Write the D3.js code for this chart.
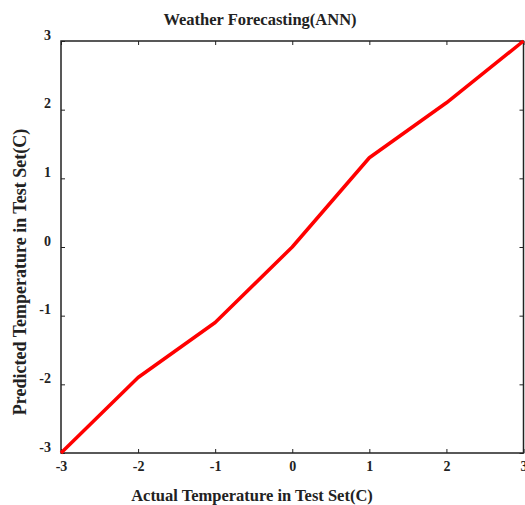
<!DOCTYPE html>
<html>
<head>
<meta charset="utf-8">
<script src="https://cdn.jsdelivr.net/npm/d3@7"></script>
<style>
  body { margin: 0; background: #fff; }
  text { font-family: "Liberation Serif", "Times New Roman", serif; font-weight: bold; fill: #222; }
</style>
</head>
<body>
<div id="chart"></div>
<script>
// actual vs predicted temperatures in the test set
var actual = [ -3, -2, -1, 0, 1, 2, 3 ];
var predicted = [ -3, -1.9, -1.1, 0, 1.3, 2.1, 3 ];
var ticks = [ -3, -2, -1, 0, 1, 2, 3 ];
var tickLabels = [ "-3", "-2", "-1", "0", "1", "2", "3" ];

var width = 525, height = 505;
var margin = { left: 61, right: 1.5, top: 41, bottom: 52 };

var svg = d3.select( "#chart" ).append( "svg" )
  .attr( "width", width )
  .attr( "height", height );

var x = d3.scaleLinear().domain( [ -3, 3 ] ).range( [ margin.left, width - margin.right ] );
var y = d3.scaleLinear().domain( [ -3, 3 ] ).range( [ height - margin.bottom, margin.top ] );

var tickLen = 4;
var label = function( d ) { return tickLabels[ ticks.indexOf( d ) ]; };

// ticks on all four sides, pointing inward
var axisBottom = d3.axisBottom( x ).tickValues( ticks ).tickSize( -tickLen ).tickPadding( 8 ).tickFormat( label );
var axisTop = d3.axisTop( x ).tickValues( ticks ).tickSize( -tickLen ).tickFormat( "" );
var axisLeft = d3.axisLeft( y ).tickValues( ticks ).tickSize( -tickLen ).tickPadding( 10 ).tickFormat( label );
var axisRight = d3.axisRight( y ).tickValues( ticks ).tickSize( -tickLen ).tickFormat( "" );

function styleAxis( g ) {
  g.select( ".domain" ).remove();
  g.selectAll( ".tick line" ).attr( "stroke", "#222" ).attr( "stroke-width", 1 );
  g.selectAll( "text" ).attr( "font-size", 14 ).attr( "fill", "#222" );
}

svg.append( "g" ).attr( "transform", "translate(0," + y( -3 ) + ")" ).call( axisBottom ).call( styleAxis );
svg.append( "g" ).attr( "transform", "translate(0," + y( 3 ) + ")" ).call( axisTop ).call( styleAxis );
var gl = svg.append( "g" ).attr( "transform", "translate(" + x( -3 ) + ",0)" ).call( axisLeft ).call( styleAxis );
gl.selectAll( ".tick text" ).attr( "dy", "-0.12em" );
svg.append( "g" ).attr( "transform", "translate(" + x( 3 ) + ",0)" ).call( axisRight ).call( styleAxis );

svg.append( "rect" )
  .attr( "x", x( -3 ) ).attr( "y", y( 3 ) )
  .attr( "width", x( 3 ) - x( -3 ) ).attr( "height", y( -3 ) - y( 3 ) )
  .attr( "fill", "none" ).attr( "stroke", "#222" ).attr( "stroke-width", 1.5 );

var points = actual.map( function( a, i ) { return [ a, predicted[ i ] ]; } );
var line = d3.line().x( function( d ) { return x( d[ 0 ] ); } ).y( function( d ) { return y( d[ 1 ] ); } );

svg.append( "path" )
  .datum( points )
  .attr( "d", line )
  .attr( "fill", "none" )
  .attr( "stroke", "#ff0000" )
  .attr( "stroke-width", 3.5 )
  .attr( "stroke-linejoin", "round" );

svg.append( "text" )
  .attr( "x", 260 ).attr( "y", 25 )
  .attr( "text-anchor", "middle" )
  .attr( "font-size", 16.5 )
  .text( "Weather Forecasting(ANN)" );

svg.append( "text" )
  .attr( "x", 252 ).attr( "y", 501 )
  .attr( "text-anchor", "middle" )
  .attr( "font-size", 16.5 )
  .text( "Actual Temperature in Test Set(C)" );

svg.append( "text" )
  .attr( "transform", "translate(26,272) rotate(-90)" )
  .attr( "text-anchor", "middle" )
  .attr( "font-size", 18 )
  .text( "Predicted Temperature in Test Set(C)" );
</script>
</body>
</html>
